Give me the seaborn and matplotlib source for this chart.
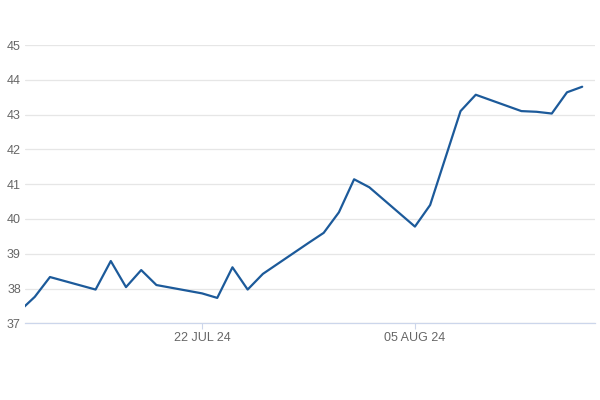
import matplotlib
matplotlib.use("Agg")
import matplotlib.pyplot as plt
import matplotlib.dates as mdates
import seaborn as sns
import pandas as pd

dates = ["2024-07-10", "2024-07-11", "2024-07-12", "2024-07-15", "2024-07-16",
         "2024-07-17", "2024-07-18", "2024-07-19", "2024-07-22", "2024-07-23",
         "2024-07-24", "2024-07-25", "2024-07-26", "2024-07-29", "2024-07-30",
         "2024-07-31", "2024-08-01", "2024-08-02", "2024-08-05", "2024-08-06",
         "2024-08-07", "2024-08-08", "2024-08-09", "2024-08-12", "2024-08-13",
         "2024-08-14", "2024-08-15", "2024-08-16"]
values = [37.35, 37.76, 38.33, 37.97, 38.79, 38.04, 38.53, 38.10, 37.86, 37.73,
          38.61, 37.97, 38.42, 39.31, 39.60, 40.19, 41.14, 40.91, 39.78, 40.40,
          41.75, 43.10, 43.57, 43.10, 43.08, 43.03, 43.64, 43.80]
tick_dates = ["2024-07-22", "2024-08-05"]
tick_labels = ["22 JUL 24", "05 AUG 24"]
y_ticks = [37, 38, 39, 40, 41, 42, 43, 44, 45]

df = pd.DataFrame({"date": pd.to_datetime(dates), "value": values})

sns.set_theme(style="white")
plt.rcParams["font.family"] = ["Liberation Sans", "DejaVu Sans"]

fig = plt.figure(figsize=(6, 4), dpi=100)
ax = fig.add_axes([25/600, 1 - 323.3/400, 570/600, (323.3 - 45)/400])

sns.lineplot(data=df, x="date", y="value", ax=ax, color="#1c5a9a", linewidth=1.6)

x0 = pd.Timestamp("2024-07-10") + pd.Timedelta(hours=8.6)
x1 = pd.Timestamp("2024-08-16") + pd.Timedelta(hours=20.2)
ax.set_xlim(x0, x1)
ax.set_ylim(37, 45)
ax.set_yticks(y_ticks)
ax.set_yticklabels([str(v) for v in y_ticks])
ax.set_xticks(pd.to_datetime(tick_dates))
ax.set_xticklabels(tick_labels)
ax.set_xlabel("")
ax.set_ylabel("")

ax.grid(axis="y", color="#e6e6e6", linewidth=0.9)
ax.grid(axis="x", visible=False)
ax.set_axisbelow(True)
for s in ["top", "right", "left"]:
    ax.spines[s].set_visible(False)
ax.spines["bottom"].set_color("#ccd6eb")
ax.spines["bottom"].set_linewidth(0.9)

ax.tick_params(axis="y", length=0, pad=3, labelsize=9, labelcolor="#666666")
ax.tick_params(axis="x", length=4, width=0.8, color="#ccd6eb", pad=2,
               labelsize=9, labelcolor="#666666", bottom=True)

fig.savefig("out.png", dpi=100)
